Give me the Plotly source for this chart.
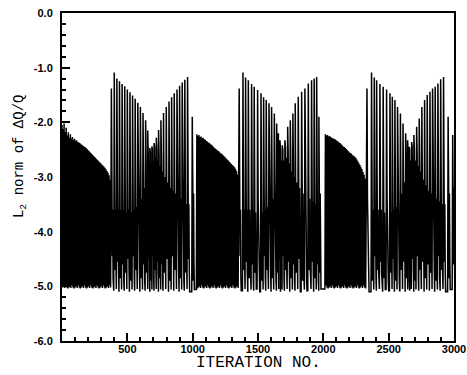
import plotly.graph_objects as go

# ---------------- data ----------------
# Dense (fast-oscillation) segments: first iteration, iteration step, peak values
dense0_start, dense0_step = 0, 8
dense0_peaks = [-2.05, -2.12, -2.02, -2.20, -2.10, -2.24, -2.18, -2.28, -2.22, -2.30,
                -2.27, -2.32, -2.30, -2.34, -2.33, -2.36, -2.37, -2.38, -2.40, -2.41,
                -2.43, -2.44, -2.45, -2.47, -2.49, -2.51, -2.53, -2.55, -2.57, -2.59,
                -2.61, -2.63, -2.65, -2.67, -2.69, -2.71, -2.73, -2.75, -2.77, -2.79,
                -2.81, -2.83, -2.86, -2.89, -2.92, -2.97, -3.05]
dense1_start, dense1_step = 1032, 8
dense1_peaks = [-2.22, -2.25, -2.23, -2.27, -2.26, -2.29, -2.28, -2.31, -2.32, -2.34,
                -2.35, -2.37, -2.38, -2.40, -2.41, -2.43, -2.45, -2.47, -2.49, -2.50,
                -2.52, -2.53, -2.55, -2.57, -2.58, -2.60, -2.62, -2.64, -2.66, -2.68,
                -2.70, -2.72, -2.74, -2.76, -2.78, -2.80, -2.82, -2.85, -2.89, -2.96]
dense2_start, dense2_step = 2016, 8
dense2_peaks = [-2.22, -2.24, -2.23, -2.26, -2.25, -2.27, -2.28, -2.29, -2.30, -2.31,
                -2.32, -2.34, -2.35, -2.37, -2.38, -2.40, -2.42, -2.44, -2.45, -2.47,
                -2.49, -2.51, -2.53, -2.55, -2.56, -2.58, -2.60, -2.61, -2.63, -2.65,
                -2.68, -2.71, -2.75, -2.78, -2.82, -2.86, -2.91, -2.96, -3.03]
dense_floor = [-5.02, -5.00, -5.03, -4.98, -5.02, -5.04]

# Large spikes: iteration, peak value, upper edge of the dark band below it
spike_iter = [378, 400, 420, 440, 460, 480, 500, 520, 540, 560, 580, 600, 620, 640, 656,
              672, 688, 705, 722, 739, 757, 777, 798, 819, 839, 859, 880, 900, 920, 940,
              961, 997,
              1356, 1385, 1405, 1426, 1451, 1471, 1497, 1523, 1543, 1563, 1584, 1604, 1625,
              1643, 1656, 1668, 1686, 1706, 1727, 1747, 1767, 1785, 1808, 1834, 1859, 1885,
              1910, 1930, 1949, 1966,
              2334, 2369, 2390, 2408, 2433, 2458, 2484, 2510, 2528, 2548, 2568, 2590, 2610,
              2630, 2645, 2657, 2676, 2693, 2714, 2734, 2754, 2775, 2795, 2816, 2836, 2856,
              2877, 2898, 2920, 2955, 2990]
spike_peak = [-1.38, -1.09, -1.20, -1.25, -1.30, -1.34, -1.40, -1.45, -1.51, -1.57, -1.64,
              -1.72, -1.83, -1.96, -2.15, -2.47, -2.44, -2.38, -2.28, -2.14, -1.96, -1.83,
              -1.72, -1.62, -1.54, -1.47, -1.40, -1.33, -1.27, -1.22, -1.17, -1.90,
              -1.38, -1.09, -1.18, -1.23, -1.30, -1.35, -1.41, -1.47, -1.54, -1.59, -1.65,
              -1.72, -1.84, -2.02, -2.20, -2.33, -2.42, -2.33, -2.08, -1.96, -1.84, -1.65,
              -1.53, -1.44, -1.38, -1.29, -1.23, -1.20, -1.17, -1.90,
              -1.38, -1.09, -1.18, -1.23, -1.30, -1.35, -1.40, -1.47, -1.53, -1.59, -1.72,
              -1.84, -2.02, -2.20, -2.33, -2.45, -2.36, -2.23, -2.08, -1.93, -1.72, -1.59,
              -1.50, -1.44, -1.38, -1.35, -1.29, -1.21, -1.17, -1.90, -2.23]
spike_band = [-3.40, -3.40, -3.40, -3.40, -3.40, -3.45, -3.40, -3.45, -3.40, -3.35, -3.30,
              -3.20, -3.00, -2.80, -2.60, -2.55, -2.50, -2.45, -2.50, -2.60, -2.70, -2.80,
              -2.90, -3.00, -3.05, -3.10, -3.15, -3.20, -3.25, -3.30, -3.30, -3.10,
              -3.40, -3.40, -3.40, -3.40, -3.40, -3.45, -3.40, -3.45, -3.40, -3.35, -3.30,
              -3.20, -3.00, -2.80, -2.60, -2.50, -2.50, -2.45, -2.55, -2.70, -2.80, -2.90,
              -3.00, -3.10, -3.15, -3.20, -3.25, -3.30, -3.30, -3.10,
              -3.40, -3.40, -3.40, -3.40, -3.40, -3.45, -3.40, -3.45, -3.40, -3.35, -3.25,
              -3.10, -2.90, -2.65, -2.55, -2.50, -2.45, -2.50, -2.60, -2.70, -2.85, -2.95,
              -3.05, -3.10, -3.15, -3.20, -3.25, -3.30, -3.30, -3.10, -3.00]
# lower edge of the dark band (varies from spike to spike)
band_lows = [-4.45, -4.70, -4.55, -4.85, -4.60, -4.75, -4.50, -4.90]
spike_floor = [-5.08, -5.05, -5.10, -5.06]

x_tickvals = [500, 1000, 1500, 2000, 2500, 3000]
x_ticktext = ["500", "1000", "1500", "2000", "2500", "3000"]
y_tickvals = [0, -1, -2, -3, -4, -5, -6]
y_ticktext = ["0.0", "-1.0", "-2.0", "-3.0", "-4.0", "-5.0", "-6.0"]

# ---------------- build the residual history ----------------
events = []
for start, step, peaks in [(dense0_start, dense0_step, dense0_peaks),
                           (dense1_start, dense1_step, dense1_peaks),
                           (dense2_start, dense2_step, dense2_peaks)]:
    for i, p in enumerate(peaks):
        events.append(("d", start + i * step, p, None))
for t, p, b in zip(spike_iter, spike_peak, spike_band):
    events.append(("s", t, p, b))
events.sort(key=lambda e: e[1])

xs, ys = [], []
nd = ns = 0
for k, (kind, t, p, b) in enumerate(events):
    nxt = events[k + 1][1] if k + 1 < len(events) else 3000
    if kind == "d":
        xs += [t, t + 4]
        ys += [p, dense_floor[nd % len(dense_floor)]]
        nd += 1
    else:
        lo1 = band_lows[ns % len(band_lows)]
        lo2 = band_lows[(ns + 3) % len(band_lows)]
        fl = spike_floor[ns % len(spike_floor)]
        xs += [t, t + 4, t + 7, t + 10, t + 13, t + 16]
        ys += [p, b, lo1, b - 0.2, lo2, fl]
        if nxt - 4 > t + 16:
            xs.append(nxt - 4)
            ys.append(fl)
        ns += 1

fig = go.Figure()
fig.add_trace(go.Scatter(x=xs, y=ys, mode="lines",
                         line=dict(color="black", width=1.5), hoverinfo="skip"))

tickfont = dict(family="Liberation Sans", size=11, color="black", weight="bold")
axis_common = dict(showline=True, linewidth=2, linecolor="black", mirror=True,
                   ticks="inside", ticklen=8, tickwidth=2, tickcolor="black",
                   showgrid=False, zeroline=False, tickfont=tickfont, automargin=False)

fig.update_layout(
    template="none",
    width=467, height=375,
    margin=dict(l=62, r=13, t=13, b=34, autoexpand=False),
    paper_bgcolor="white", plot_bgcolor="white",
    showlegend=False,
    xaxis=dict(range=[0, 3000], tickmode="array", tickvals=x_tickvals, ticktext=x_ticktext,
               minor=dict(ticks="inside", ticklen=4, tickwidth=1.5, tickcolor="black",
                          tickmode="linear", tick0=0, dtick=100, showgrid=False),
               ticklabelstandoff=-3, **axis_common),
    yaxis=dict(range=[-6, 0], tickmode="array", tickvals=y_tickvals, ticktext=y_ticktext,
               minor=dict(ticks="inside", ticklen=4, tickwidth=1.5, tickcolor="black",
                          tickmode="linear", tick0=0, dtick=0.2, showgrid=False),
               ticklabelstandoff=5, **axis_common),
    annotations=[
        dict(text="ITERATION NO.", xref="paper", yref="paper", x=0.5, y=-0.066,
             xanchor="center", yanchor="middle", showarrow=False,
             font=dict(family="Liberation Mono", size=16, color="black")),
        dict(text="L<sub>2</sub> norm of ΔQ/Q", xref="paper", yref="paper",
             x=-0.107, y=0.564, xanchor="center", yanchor="middle", textangle=-90,
             showarrow=False, font=dict(family="Liberation Mono", size=14, color="black")),
    ],
)

fig.write_html("out.html")
